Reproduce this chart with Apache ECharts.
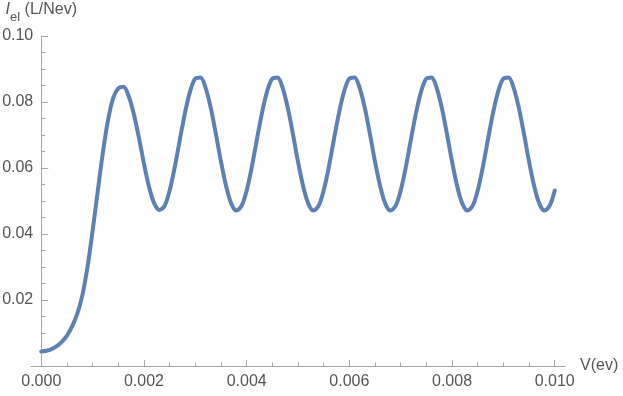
<!DOCTYPE html>
<html>
<head>
<meta charset="utf-8">
<script src="https://cdn.jsdelivr.net/npm/echarts@6/dist/echarts.min.js"></script>
<style>html,body{margin:0;padding:0;background:#fff}#c{width:623px;height:396px}</style>
</head>
<body>
<div id="c"></div>
<script>
// V (ev) sample positions
const voltage = [
  0.0000,0.0001,0.0002,0.0003,0.0004,0.0005,0.0006,0.0007,0.0008,0.0009,
  0.0010,0.0011,0.0012,0.0013,0.0014,0.0015,0.0016,0.0017,0.0018,0.0019,
  0.0020,0.0021,0.0022,0.0023,0.0024,0.0025,0.0026,0.0027,0.0028,0.0029,
  0.0030,0.0031,0.0032,0.0033,0.0034,0.0035,0.0036,0.0037,0.0038,0.0039,
  0.0040,0.0041,0.0042,0.0043,0.0044,0.0045,0.0046,0.0047,0.0048,0.0049,
  0.0050,0.0051,0.0052,0.0053,0.0054,0.0055,0.0056,0.0057,0.0058,0.0059,
  0.0060,0.0061,0.0062,0.0063,0.0064,0.0065,0.0066,0.0067,0.0068,0.0069,
  0.0070,0.0071,0.0072,0.0073,0.0074,0.0075,0.0076,0.0077,0.0078,0.0079,
  0.0080,0.0081,0.0082,0.0083,0.0084,0.0085,0.0086,0.0087,0.0088,0.0089,
  0.0090,0.0091,0.0092,0.0093,0.0094,0.0095,0.0096,0.0097,0.0098,0.0099,
  0.0100
];
// I_el (L/Nev)
const current = [
  0.0044,0.0046,0.0051,0.0060,0.0073,0.0092,0.0120,0.0158,0.0214,0.0300,
  0.0410,0.0530,0.0647,0.0745,0.0812,0.0841,0.0846,0.0819,0.0765,0.0693,
  0.0613,0.0542,0.0493,0.0473,0.0485,0.0532,0.0603,0.0687,0.0768,0.0833,
  0.0871,0.0874,0.0843,0.0783,0.0704,0.0619,0.0545,0.0492,0.0471,0.0485,
  0.0532,0.0603,0.0687,0.0768,0.0833,0.0871,0.0874,0.0843,0.0783,0.0704,
  0.0619,0.0545,0.0492,0.0471,0.0485,0.0532,0.0603,0.0687,0.0768,0.0833,
  0.0871,0.0874,0.0843,0.0783,0.0704,0.0619,0.0545,0.0492,0.0471,0.0485,
  0.0532,0.0603,0.0687,0.0768,0.0833,0.0871,0.0874,0.0843,0.0783,0.0704,
  0.0619,0.0545,0.0492,0.0471,0.0485,0.0532,0.0603,0.0687,0.0768,0.0833,
  0.0871,0.0874,0.0843,0.0783,0.0704,0.0619,0.0545,0.0492,0.0471,0.0485,
  0.0532
];
const xMajorTicks = [0, 0.002, 0.004, 0.006, 0.008, 0.010];
const xMinorTicks = [0.0005,0.001,0.0015,0.0025,0.003,0.0035,0.0045,0.005,0.0055,0.0065,0.007,0.0075,0.0085,0.009,0.0095];
const yMajorTicks = [0.02, 0.04, 0.06, 0.08, 0.10];
const yMinorTicks = [0.005,0.01,0.015,0.025,0.03,0.035,0.045,0.05,0.055,0.065,0.07,0.075,0.085,0.09,0.095];

const axisColor = '#a6a6a6';
const textColor = '#555555';
const font = '"Liberation Sans", Arial, sans-serif';
const yAxisShift = -10.27; // y axis drawn at V = 0

const chart = echarts.init(document.getElementById('c'), null, {renderer: 'canvas'});
const data = voltage.map((v, i) => [v, current[i]]);

chart.setOption({
  animation: false,
  backgroundColor: '#ffffff',
  grid: {left: 31, right: 58, top: 36, bottom: 30, outerBoundsMode: 'none', containLabel: false},
  xAxis: [
    {
      type: 'value', min: -0.0002, max: 0.0102, position: 'bottom',
      name: 'V(ev)', nameLocation: 'end', nameGap: 15,
      nameTextStyle: {color: textColor, fontSize: 16, fontFamily: font, verticalAlign: 'middle', padding: [2,0,0,0]},
      axisLine: {onZero: false, lineStyle: {color: axisColor, width: 1}},
      axisTick: {inside: true, length: 6, customValues: xMajorTicks, lineStyle: {color: axisColor}},
      axisLabel: {customValues: xMajorTicks, margin: 8, color: textColor, fontSize: 16, fontFamily: font,
        formatter: v => v.toFixed(3)},
      splitLine: {show: false}
    },
    {
      type: 'value', min: -0.0002, max: 0.0102, position: 'bottom',
      axisLine: {show: false, onZero: false},
      axisTick: {inside: true, length: 3.5, customValues: xMinorTicks, lineStyle: {color: axisColor}},
      axisLabel: {show: false},
      splitLine: {show: false}
    }
  ],
  yAxis: [
    {
      type: 'value', min: 0, max: 0.10, position: 'left', offset: yAxisShift,
      name: '{i|I}{s|el}{t| (L/Nev)}', nameLocation: 'end', nameGap: 12,
      nameTextStyle: {
        color: textColor, fontSize: 16, fontFamily: font, align: 'center',
        rich: {
          i: {fontSize: 16, fontStyle: 'italic', fontFamily: font, color: textColor, lineHeight: 22, verticalAlign: 'top'},
          s: {fontSize: 13, fontFamily: font, color: textColor, lineHeight: 22, verticalAlign: 'bottom', padding: [6,0,0,0]},
          t: {fontSize: 16, fontFamily: font, color: textColor, lineHeight: 22, verticalAlign: 'top'}
        }
      },
      axisLine: {onZero: false, lineStyle: {color: axisColor, width: 1}},
      axisTick: {inside: true, length: 7, customValues: yMajorTicks, lineStyle: {color: axisColor}},
      axisLabel: {customValues: yMajorTicks, margin: 8, color: textColor, fontSize: 16, fontFamily: font,
        formatter: v => v.toFixed(2)},
      splitLine: {show: false}
    },
    {
      type: 'value', min: 0, max: 0.10, position: 'left', offset: yAxisShift,
      axisLine: {show: false, onZero: false},
      axisTick: {inside: true, length: 4, customValues: yMinorTicks, lineStyle: {color: axisColor}},
      axisLabel: {show: false},
      splitLine: {show: false}
    }
  ],
  series: [{
    type: 'line', xAxisIndex: 0, yAxisIndex: 0,
    data: data, smooth: 0.33, symbol: 'none',
    lineStyle: {color: '#5E81B5', width: 4, cap: 'round', join: 'round'}
  }]
});
</script>
</body>
</html>
